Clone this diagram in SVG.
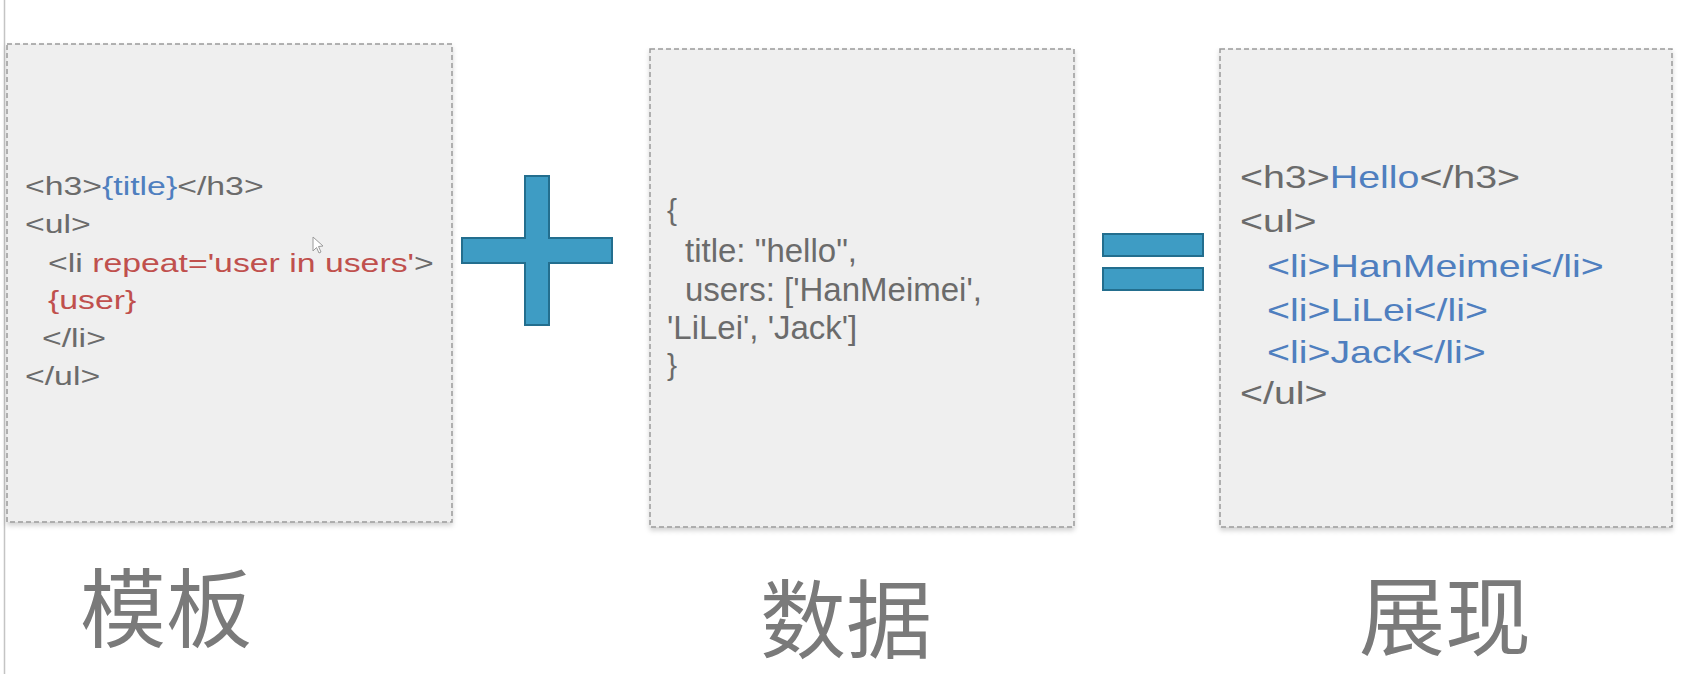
<svg xmlns="http://www.w3.org/2000/svg" width="1686" height="674" viewBox="0 0 1686 674">
<defs>
<style>
.box{fill:#efefef;stroke:#9a9a9a;stroke-width:1.5;stroke-dasharray:5 3;}
.code{font-family:"Liberation Sans",Arial,sans-serif;fill:#6b6b6b;}
.l{font-size:26px;}
.m{font-size:33px;}
.r{font-size:32px;}
.blue{fill:#4f7fbf;}
.red{fill:#c0504d;}
.op{fill:#3e9cc4;stroke:#236e8e;stroke-width:2;}
.cjk{font-family:"Noto Sans CJK SC",sans-serif;font-size:86px;fill:#7a7a7a;}
</style>
<filter id="sh" x="-5%" y="-5%" width="110%" height="115%">
<feDropShadow dx="0" dy="3" stdDeviation="2.5" flood-color="#000" flood-opacity="0.18"/>
</filter>
</defs>
<rect width="1686" height="674" fill="#ffffff"/>
<line x1="4.5" y1="0" x2="4.5" y2="674" stroke="#c4c4c4" stroke-width="1.5"/>

<g id="box-template">
<rect class="box" x="7" y="44" width="445" height="478" filter="url(#sh)"/>
<text class="code l" transform="translate(25,195) scale(1.3,1)">&lt;h3&gt;<tspan class="blue">{title}</tspan>&lt;/h3&gt;</text>
<text class="code l" transform="translate(25,233) scale(1.3,1)">&lt;ul&gt;</text>
<text class="code l" transform="translate(48,272) scale(1.3,1)">&lt;li <tspan class="red">repeat='user in users'</tspan>&gt;</text>
<text class="code l red" transform="translate(48,309) scale(1.3,1)">{user}</text>
<text class="code l" transform="translate(42,347) scale(1.3,1)">&lt;/li&gt;</text>
<text class="code l" transform="translate(25,385) scale(1.3,1)">&lt;/ul&gt;</text>
<path d="M313,237 L313,251 L316.5,247.5 L319,253 L321,252 L318.5,246.5 L323,246 Z" fill="#ffffff" stroke="#9a9a9a" stroke-width="1"/>
</g>

<g id="box-data">
<rect class="box" x="650" y="49" width="424" height="478" filter="url(#sh)"/>
<text class="code" font-size="30" x="667" y="220">{</text>
<text class="code m" x="685" y="262">title: "hello",</text>
<text class="code m" x="685" y="301">users: ['HanMeimei',</text>
<text class="code m" x="667" y="339">'LiLei', 'Jack']</text>
<text class="code" font-size="30" x="667" y="375">}</text>
</g>

<g id="box-view">
<rect class="box" x="1220" y="49" width="452" height="478" filter="url(#sh)"/>
<text class="code r" transform="translate(1240,188) scale(1.23,1)">&lt;h3&gt;<tspan class="blue">Hello</tspan>&lt;/h3&gt;</text>
<text class="code r" transform="translate(1240,232) scale(1.23,1)">&lt;ul&gt;</text>
<text class="code r blue" transform="translate(1267,277) scale(1.23,1)">&lt;li&gt;HanMeimei&lt;/li&gt;</text>
<text class="code r blue" transform="translate(1267,321) scale(1.23,1)">&lt;li&gt;LiLei&lt;/li&gt;</text>
<text class="code r blue" transform="translate(1267,363) scale(1.23,1)">&lt;li&gt;Jack&lt;/li&gt;</text>
<text class="code r" transform="translate(1240,404) scale(1.23,1)">&lt;/ul&gt;</text>
</g>

<g id="operators">
<path id="op-plus" class="op" d="M525,176 H549 V238 H612 V263 H549 V325 H525 V263 H462 V238 H525 Z"/>
<g id="op-equals">
<rect class="op" x="1103" y="234" width="100" height="22"/>
<rect class="op" x="1103" y="268" width="100" height="22"/>
</g>
</g>

<g id="labels">
<text class="cjk" x="80" y="641">模板</text>
<text class="cjk" x="760" y="652">数据</text>
<text class="cjk" x="1359" y="649">展现</text>
</g>
</svg>
